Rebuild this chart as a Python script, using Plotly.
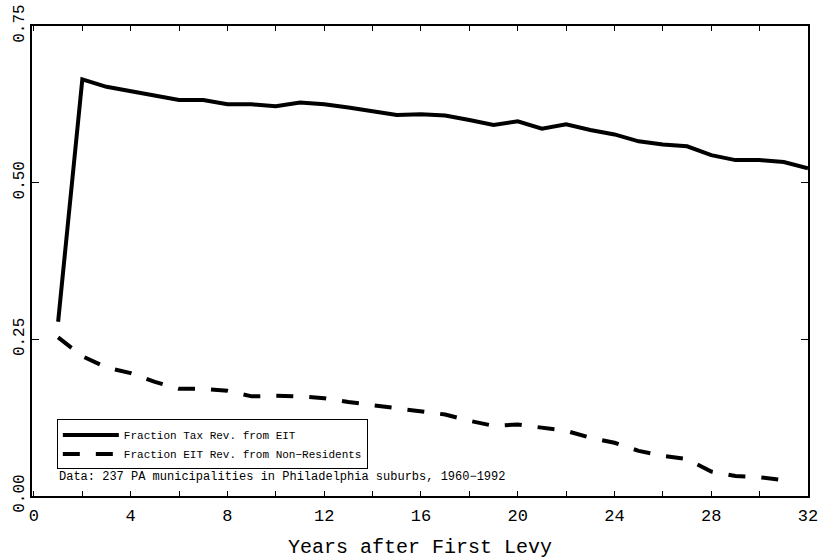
import plotly.graph_objects as go

years = list(range(1, 33))
frac_tax_eit = [0.278, 0.665, 0.653, 0.646, 0.639, 0.632, 0.632, 0.625, 0.625, 0.622,
                0.628, 0.625, 0.620, 0.614, 0.608, 0.609, 0.607, 0.600, 0.592, 0.598,
                0.586, 0.593, 0.584, 0.577, 0.566, 0.561, 0.558, 0.544, 0.536, 0.536,
                0.533, 0.523]
years_nr = list(range(1, 32))
frac_eit_nonres = [0.253, 0.223, 0.205, 0.196, 0.182, 0.171, 0.171, 0.168, 0.159, 0.160,
                   0.159, 0.156, 0.150, 0.145, 0.139, 0.1345, 0.130, 0.120, 0.112, 0.114,
                   0.109, 0.104, 0.093, 0.085, 0.072, 0.064, 0.059, 0.039, 0.032, 0.030,
                   0.025]
x_tick_vals = [0, 4, 8, 12, 16, 20, 24, 28, 32]
y_tick_vals = [0.0, 0.25, 0.50, 0.75]
y_tick_text = ["0.00", "0.25", "0.50", "0.75"]

FONT = "Liberation Mono"

fig = go.Figure()
fig.add_trace(go.Scatter(x=years, y=frac_tax_eit, mode="lines",
                         name="Fraction Tax Rev. from EIT",
                         line=dict(color="black", width=4)))
fig.add_trace(go.Scatter(x=years_nr, y=frac_eit_nonres, mode="lines",
                         name="Fraction EIT Rev. from Non\u2212Residents",
                         line=dict(color="black", width=4, dash="17px,16px")))

fig.update_layout(
    width=825, height=559,
    margin=dict(l=32, r=17, t=26, b=63, autoexpand=False),
    plot_bgcolor="white", paper_bgcolor="white",
    font=dict(family=FONT, color="black"),
    showlegend=True,
    legend=dict(x=0.032, y=0.163, xanchor="left", yanchor="top",
                bordercolor="black", borderwidth=1, bgcolor="white",
                font=dict(family=FONT, size=11), itemwidth=56,
                tracegroupgap=0),
    annotations=[dict(x=0.032, y=0.041, xref="paper", yref="paper",
                      xanchor="left", yanchor="middle", showarrow=False,
                      text="Data: 237 PA municipalities in Philadelphia suburbs, 1960\u22121992",
                      font=dict(family=FONT, size=12, color="black"))],
)

fig.update_xaxes(range=[-0.08, 32], tickvals=x_tick_vals, ticks="inside", ticklen=5,
                 tickcolor="black", tickwidth=1, showline=True, linecolor="black",
                 linewidth=1.5, mirror="allticks", showgrid=False, zeroline=False,
                 automargin=False,
                 tickfont=dict(family=FONT, size=17),
                 minor=dict(dtick=2, tick0=0, ticks="inside", ticklen=5, tickcolor="black",
                            showgrid=False),
                 title=dict(text="Years after First Levy", font=dict(family=FONT, size=20),
                            standoff=14),
                 ticklabelstandoff=3)
fig.update_yaxes(range=[0, 0.75], tickvals=y_tick_vals, ticktext=y_tick_text,
                 ticks="inside", ticklen=7, tickcolor="black", tickwidth=1,
                 showline=True, linecolor="black", linewidth=1.5, mirror="allticks",
                 showgrid=False, zeroline=False, tickangle=-90, automargin=False,
                 tickfont=dict(family=FONT, size=16), ticklabelstandoff=0)

fig.write_html("out.html", config={"displayModeBar": False},
               post_script="document.body.style.margin='0';document.body.style.overflow='hidden';")
